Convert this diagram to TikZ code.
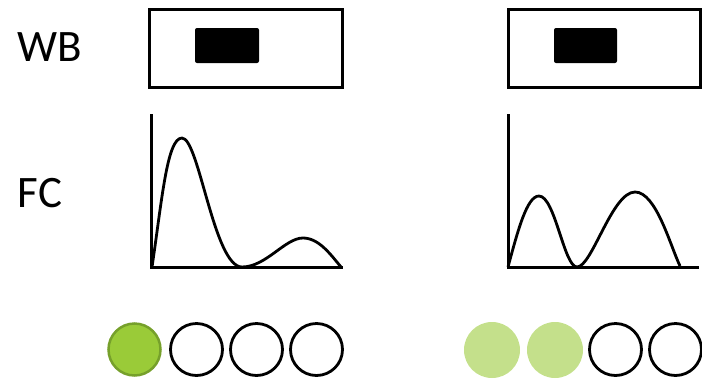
\documentclass[tikz,border=0pt]{standalone}
\usepackage{fontspec}
\setmainfont{Carlito}
\definecolor{dgreen}{HTML}{9ACB38}
\definecolor{dgreenline}{HTML}{76A02B}
\definecolor{lgreen}{HTML}{C4E08B}
\begin{document}
\begin{tikzpicture}[x=1pt,y=-1pt,
  lbl/.style={font=\fontsize{45}{50}\selectfont, inner sep=0pt},
  frame/.style={draw, line width=3pt, inner sep=0pt},
  band/.style={fill=black, rounded corners=1.5pt, inner sep=0pt},
  dot/.style={circle, minimum size=52pt, inner sep=0pt},
  emptydot/.style={dot, draw, line width=2.8pt},
  curve/.style={line width=2.8pt},
  axis/.style={line width=3pt}]
\useasboundingbox (0,0) rectangle (702,381);
% labels
\node[lbl] (wb) at (50,47) {WB};
\node[lbl] (fc) at (40,193) {FC};
% WB boxes
\draw[frame] (149,9) rectangle (342,87);
\fill[band, rounded corners=2pt] (195,28) rectangle (259,63);
\draw[frame] (508,9) rectangle (700.5,87);
\fill[band, rounded corners=2pt] (554,28) rectangle (617,63);
% left FC plot
\coordinate (lo) at (151,267);
\coordinate (ltop) at (151,114);
\coordinate (lx) at (343,267);
\draw[axis] (ltop) -- (lo) -- (lx);
\draw[curve] (152,267) .. controls (162,200) and (167,138) .. (182,138)
  .. controls (199,138) and (214,267) .. (242,267)
  .. controls (266,267) and (285,238) .. (303,238)
  .. controls (319,238) and (331,255) .. (341,267);
% right FC plot
\coordinate (ro) at (508,267);
\coordinate (rtop) at (508,114);
\coordinate (rx) at (699,267);
\draw[axis] (rtop) -- (ro) -- (rx);
\draw[curve] (508,267) .. controls (518,230) and (527,196) .. (539,196)
  .. controls (555,196) and (564,267) .. (577,267)
  .. controls (592,267) and (612,192) .. (635,192)
  .. controls (656,192) and (670,245) .. (680,266);
% circles left
\node[dot, fill=dgreen, draw=dgreenline, line width=2.5pt] (c1) at (134.5,349.5) {};
\node[emptydot] (c2) at (196.5,349.5) {};
\node[emptydot] (c3) at (256.5,349.5) {};
\node[emptydot] (c4) at (316.5,349.5) {};
% circles right
\node[dot, fill=lgreen, minimum size=56pt] (d1) at (492,350) {};
\node[dot, fill=lgreen, minimum size=56pt] (d2) at (555,350) {};
\node[emptydot] (d3) at (615.5,349.5) {};
\node[emptydot] (d4) at (675.5,349.5) {};
\end{tikzpicture}
\end{document}
